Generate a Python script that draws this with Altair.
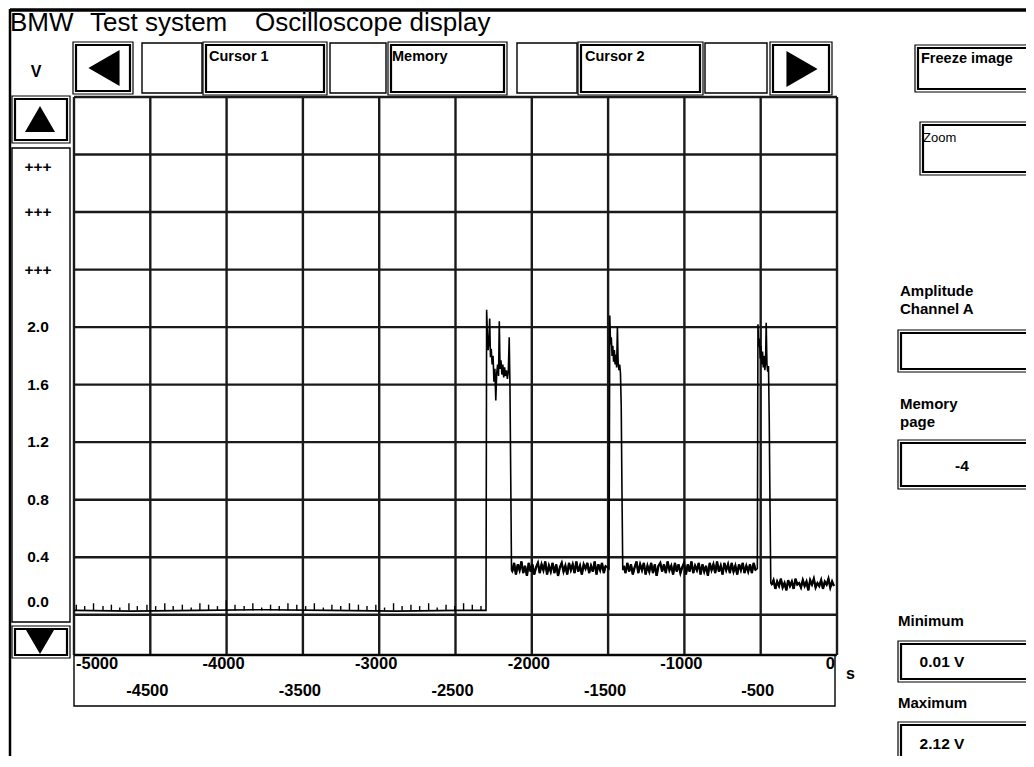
import altair as alt
import pandas as pd

# ---------------- data ----------------
grid_t = [-5000, -4500, -4000, -3500, -3000, -2500, -2000, -1500, -1000, -500, 0]
grid_v = [0.0, 0.4, 0.8, 1.2, 1.6, 2.0, 2.4, 2.8, 3.2, 3.6]
y_min = -0.28

xlab_top = [-5000, -4000, -3000, -2000, -1000, 0]
xlab_bottom = [-4500, -3500, -2500, -1500, -500]
ylab_vals = [3.2, 2.8, 2.4, 2.0, 1.6, 1.2, 0.8, 0.4, 0.0]
ylab_text = ["+++", "+++", "+++", "2.0", "1.6", "1.2", "0.8", "0.4", "0.0"]

# baseline before first pulse
base_t = [-5000, -4620, -4180, -3760, -3330, -2890, -2470, -2304]
base_v = [0.03, 0.025, 0.03, 0.035, 0.03, 0.025, 0.03, 0.03]
base_level = 0.03
spike_t = [-4985, -4930, -4872, -4810, -4755, -4700, -4640, -4585, -4522, -4465,
           -4405, -4350, -4290, -4232, -4175, -4118, -4060, -4002, -3945, -3885,
           -3828, -3770, -3712, -3655, -3598, -3540, -3482, -3425, -3366, -3310,
           -3252, -3195, -3136, -3080, -3022, -2965, -2906, -2850, -2792, -2735,
           -2676, -2620, -2562, -2505, -2447, -2390, -2333]
spike_v = [0.07, 0.06, 0.08, 0.06, 0.07, 0.05, 0.08, 0.06, 0.07, 0.06,
           0.08, 0.06, 0.07, 0.05, 0.08, 0.07, 0.06, 0.10, 0.07, 0.06,
           0.08, 0.05, 0.07, 0.06, 0.08, 0.07, 0.06, 0.08, 0.05, 0.07,
           0.06, 0.08, 0.07, 0.06, 0.07, 0.05, 0.08, 0.06, 0.07, 0.06,
           0.08, 0.05, 0.07, 0.06, 0.08, 0.07, 0.06]

# pulse 1
pulse1_t = [-2300, -2296, -2291, -2286, -2281, -2276, -2271, -2266, -2260, -2254,
            -2248, -2242, -2236, -2230, -2224, -2218, -2213, -2208, -2202, -2196,
            -2190, -2184, -2178, -2172, -2166, -2160, -2154, -2148, -2143, -2138, -2133]
pulse1_v = [0.03, 2.12, 1.95, 1.84, 1.90, 2.06, 1.79, 1.85, 1.74, 1.80,
            1.62, 1.71, 1.49, 1.68, 1.74, 1.66, 2.04, 1.71, 1.77, 1.67,
            1.74, 1.65, 1.72, 1.66, 1.70, 1.64, 1.69, 1.93, 1.58, 0.95, 0.31]

# level between pulse 1 and 2 (scope samples every 12 ms)
sample_dt = 12
mid1_t0 = -2128
mid1_v = [0.30, 0.36, 0.28, 0.35, 0.31, 0.37, 0.29, 0.34, 0.27, 0.36,
          0.30, 0.35, 0.28, 0.33, 0.36, 0.29, 0.35, 0.31, 0.37, 0.28,
          0.34, 0.30, 0.36, 0.29, 0.35, 0.27, 0.33, 0.36, 0.30, 0.34,
          0.28, 0.36, 0.31, 0.35, 0.29, 0.37, 0.30, 0.34, 0.28, 0.35,
          0.32, 0.36, 0.29, 0.34, 0.30, 0.37, 0.28, 0.35, 0.31, 0.36,
          0.29, 0.34]

# pulse 2
pulse2_t = [-1494, -1489, -1484, -1479, -1474, -1469, -1464, -1459, -1454, -1449,
            -1444, -1439, -1434, -1429, -1424, -1419, -1414, -1409, -1404]
pulse2_v = [0.32, 2.08, 1.88, 1.93, 1.80, 1.87, 1.76, 1.84, 1.74, 1.81,
            1.72, 2.00, 1.75, 1.70, 1.74, 1.68, 1.45, 0.85, 0.31]

# level between pulse 2 and 3
mid2_t0 = -1398
mid2_v = [0.34, 0.29, 0.36, 0.30, 0.35, 0.28, 0.33, 0.37, 0.29, 0.35,
          0.31, 0.36, 0.28, 0.34, 0.30, 0.36, 0.29, 0.35, 0.27, 0.34,
          0.36, 0.30, 0.35, 0.29, 0.37, 0.31, 0.34, 0.28, 0.36, 0.30,
          0.35, 0.29, 0.33, 0.36, 0.28, 0.35, 0.30, 0.37, 0.29, 0.34,
          0.31, 0.36, 0.28, 0.35, 0.30, 0.34, 0.27, 0.36, 0.31, 0.35,
          0.29, 0.37, 0.30, 0.34, 0.28, 0.36, 0.31, 0.35, 0.29, 0.36,
          0.30, 0.34, 0.28, 0.35, 0.31, 0.36, 0.29, 0.34, 0.30, 0.35,
          0.29, 0.36, 0.31]

# pulse 3
pulse3_t = [-522, -518, -513, -508, -503, -498, -493, -488, -483, -478,
            -473, -468, -464, -459, -454, -449, -444, -439, -434]
pulse3_v = [0.32, 2.02, 1.86, 1.92, 1.78, 1.87, 1.74, 1.83, 1.72, 1.80,
            1.70, 1.76, 2.03, 1.74, 1.69, 1.73, 1.35, 0.75, 0.22]

# final level
low_t0 = -428
low_v = [0.21, 0.24, 0.18, 0.23, 0.20, 0.25, 0.19, 0.22, 0.17, 0.24,
         0.20, 0.23, 0.18, 0.25, 0.21, 0.22, 0.19, 0.24, 0.20, 0.23,
         0.17, 0.24, 0.21, 0.25, 0.19, 0.22, 0.20, 0.24, 0.18, 0.23,
         0.21, 0.25, 0.19, 0.23, 0.20]

panel_values = ["-4", "0.01 V", "2.12 V"]

# ---------------- layout ----------------
FONT = "Liberation Sans, Arial, Helvetica, sans-serif"
W, H = 763, 558
OX, OY = 74, 97   # page position of the plot origin
PAD = {"left": OX - 8, "top": OY - 8, "right": 1018 - (OX - 8) - W, "bottom": 748 - (OY - 8) - H}

xs = alt.Scale(domain=[grid_t[0], grid_t[-1]], nice=False, zero=False)
ys = alt.Scale(domain=[y_min, grid_v[-1]], nice=False, zero=False)


def sampled(t0, vals):
    return pd.DataFrame({"t": [t0 + i * sample_dt for i in range(len(vals))], "v": vals})


bands = pd.concat([sampled(mid1_t0, mid1_v), sampled(mid2_t0, mid2_v), sampled(low_t0, low_v)])
trace = pd.concat([
    pd.DataFrame({"t": base_t, "v": base_v}),
    pd.DataFrame({"t": pulse1_t, "v": pulse1_v}),
    pd.DataFrame({"t": pulse2_t, "v": pulse2_v}),
    pd.DataFrame({"t": pulse3_t, "v": pulse3_v}),
    bands,
]).sort_values("t").reset_index(drop=True)
trace["i"] = range(len(trace))

X = lambda f="t": alt.X(f + ":Q", scale=xs, axis=None)
Y = lambda f="v": alt.Y(f + ":Q", scale=ys, axis=None)
PX = lambda f: alt.X(f + ":Q", scale=None, axis=None)
PY = lambda f: alt.Y(f + ":Q", scale=None, axis=None)

GRID = "#1a1a1a"
vgrid = alt.Chart(pd.DataFrame({"t": grid_t})).mark_rule(color=GRID, strokeWidth=2.4).encode(
    x=X(), y=alt.value(0), y2=alt.value(H))
hgrid = alt.Chart(pd.DataFrame({"v": grid_v + [y_min]})).mark_rule(color=GRID, strokeWidth=2.4).encode(
    y=Y(), x=alt.value(0), x2=alt.value(W))

line = alt.Chart(trace).mark_line(color="black", strokeWidth=1.6, strokeJoin="miter").encode(
    x=X(), y=Y(), order="i:Q")
# the noisy low levels are drawn with a heavier pen (dense scope trace)
bands = bands.reset_index(drop=True)
bands["i"] = range(len(bands))
bands["seg"] = ([0] * len(mid1_v)) + ([1] * len(mid2_v)) + ([2] * len(low_v))
band_line = alt.Chart(bands).mark_line(color="black", strokeWidth=2.3, strokeJoin="miter").encode(
    x=X(), y=Y(), order="i:Q", detail="seg:N")
spk = pd.DataFrame({"t": spike_t, "v": spike_v})
spk["lo"] = base_level
spikes = alt.Chart(spk).mark_rule(color="black", strokeWidth=1.4).encode(
    x=X(), y=Y("lo"), y2=alt.Y2("v"))

# x labels
def xlab(vals, yy, align):
    df = pd.DataFrame({"t": vals, "lab": [str(v) for v in vals]})
    return alt.Chart(df).mark_text(font=FONT, fontSize=16.5, fontWeight="bold", align=align,
                                   baseline="middle", color="black",
                                   dx=2 if align == "left" else (-2 if align == "right" else -3)).encode(
        x=X(), y=alt.value(yy - OY), text="lab:N")

xl = [xlab(xlab_top[:1], 664, "left"), xlab(xlab_top[1:-1], 664, "center"),
      xlab(xlab_top[-1:], 664, "right"), xlab(xlab_bottom, 691, "center")]

ylab_df = pd.DataFrame({"v": ylab_vals, "lab": ylab_text})
def ylab(df, dy):
    return alt.Chart(df).mark_text(font=FONT, fontSize=15.5, fontWeight="bold", align="center",
                                   baseline="middle", color="black", dy=dy).encode(
        x=alt.value(38 - OX), y=Y(), text="lab:N")
yl = [ylab(ylab_df.iloc[:1], 12), ylab(ylab_df.iloc[1:-1], 0), ylab(ylab_df.iloc[-1:], -13)]

# ---- interface frame (page pixel coordinates) ----
thin_boxes = [(142, 43, 202, 93), (330, 43, 386, 93), (517, 43, 577, 93), (705, 43, 767, 93),
              (12, 148, 70, 622), (74, 655, 835, 706)]
raised_boxes = [(73, 42, 133, 94), (203, 42, 327, 95), (388, 42, 507, 95), (578, 42, 703, 95),
                (770, 42, 832, 95), (12, 96, 70, 143), (12, 626, 70, 658), (915, 45, 1040, 92),
                (920, 122, 1040, 175), (898, 330, 1040, 372), (898, 440, 1040, 489),
                (898, 641, 1040, 682), (898, 722, 1040, 764)]
rows = []
for (a, b, c, d) in thin_boxes:
    rows.append((a, b, c, d, 1.4))
for (a, b, c, d) in raised_boxes:
    rows.append((a, b, c, d, 1.2))
    rows.append((a + 3, b + 3, c - 3, d - 3, 2.2))
box_df = pd.DataFrame(rows, columns=["X0", "Y0", "X1", "Y1", "sw"])
for c0, off in (("X0", OX), ("X1", OX), ("Y0", OY), ("Y1", OY)):
    box_df["p" + c0] = box_df[c0] - off
boxes = alt.Chart(box_df).mark_rect(filled=False, stroke="black").encode(
    x=PX("pX0"), x2=alt.X2("pX1"), y=PY("pY0"), y2=alt.Y2("pY1"),
    strokeWidth=alt.StrokeWidth("sw:Q", scale=None, legend=None))

frame_df = pd.DataFrame([(10, 10, 1040, 10, 3.5), (10, 9, 10, 770, 2.5)],
                        columns=["X0", "Y0", "X1", "Y1", "sw"])
for c0, off in (("X0", OX), ("X1", OX), ("Y0", OY), ("Y1", OY)):
    frame_df["p" + c0] = frame_df[c0] - off
frame = alt.Chart(frame_df).mark_rule(color="black").encode(
    x=PX("pX0"), x2=alt.X2("pX1"), y=PY("pY0"), y2=alt.Y2("pY1"),
    strokeWidth=alt.StrokeWidth("sw:Q", scale=None, legend=None))

tri_df = pd.DataFrame([(104, 68, "triangle-left", 1296), (802, 69, "triangle-right", 1296),
                       (40, 119, "triangle-up", 900), (40, 642, "triangle-down", 784)],
                      columns=["X", "Y", "shape", "size"])
tri_df["px"] = tri_df["X"] - OX
tri_df["py"] = tri_df["Y"] - OY
tris = alt.Chart(tri_df).mark_point(filled=True, opacity=1, color="black", strokeWidth=0).encode(
    x=PX("px"), y=PY("py"),
    shape=alt.Shape("shape:N", scale=None, legend=None),
    size=alt.Size("size:Q", scale=None, legend=None))


def ui_text(items, size, weight="bold", align="left", baseline="middle", font=FONT):
    df = pd.DataFrame(items, columns=["text", "X", "Y"])
    df["px"] = df["X"] - OX
    df["py"] = df["Y"] - OY
    return alt.Chart(df).mark_text(font=font, fontSize=size, fontWeight=weight, align=align,
                                   baseline=baseline, color="black").encode(
        x=PX("px"), y=PY("py"), text="text:N")


texts = [
    ui_text([("BMW", 10, 31), ("Test system", 90, 31), ("Oscilloscope display", 255, 31)],
            26, weight="normal", baseline="alphabetic"),
    ui_text([("Cursor 1", 209, 57), ("Memory", 392, 57), ("Cursor 2", 585, 57),
             ("Freeze image", 921, 59)], 14.5),
    ui_text([("Zoom", 923, 138)], 13, weight="normal"),
    ui_text([("V", 36, 72)], 16, align="center"),
    ui_text([("Amplitude", 900, 296), ("Channel A", 900, 314), ("Memory", 900, 409),
             ("page", 900, 427), ("Minimum", 898, 626), ("Maximum", 898, 708)],
            15, baseline="alphabetic"),
    ui_text(list(zip(panel_values, [962, 942, 942], [466, 662, 744])), 15.5, align="center"),
    ui_text([("s", 846, 674)], 16),
]

chart = alt.layer(
    vgrid, hgrid, line, band_line, spikes, *xl, *yl, boxes, frame, tris, *texts
).properties(
    width=W, height=H,
    autosize=alt.AutoSizeParams(type="none"),
    padding=PAD,
    background="white",
).configure_view(stroke=None)

chart.save("out.html", embed_options={"renderer": "svg", "actions": False})
